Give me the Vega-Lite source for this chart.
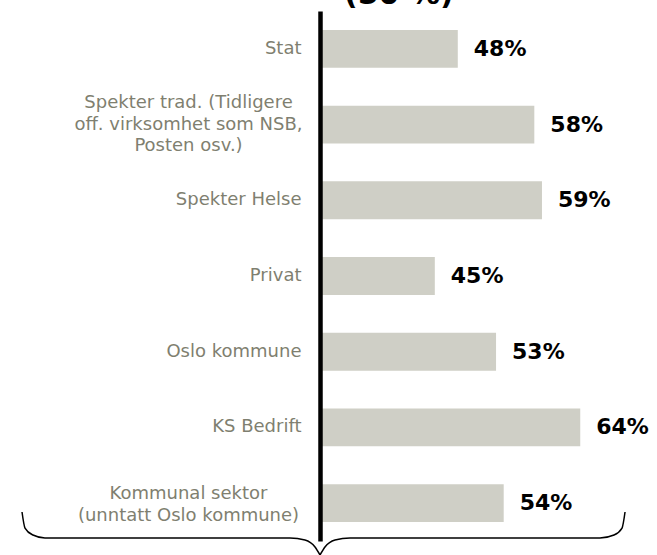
{
  "$schema": "https://vega.github.io/schema/vega-lite/v6.json",
  "width": 310,
  "height": 530,
  "autosize": {"type": "none"},
  "padding": {"left": 320, "top": 11, "right": 27, "bottom": 14},
  "background": "white",
  "title": {
    "text": "(50 %)",
    "anchor": "start",
    "frame": "group",
    "dx": 24,
    "offset": -23,
    "baseline": "alphabetic",
    "font": "DejaVu Sans",
    "fontSize": 30,
    "fontWeight": "bold",
    "color": "black"
  },
  "config": {"view": {"stroke": null}, "font": "DejaVu Sans"},
  "datasets": {
    "shares": [
      {"sektor": "Stat", "andel": 0.48},
      {"sektor": "Spekter trad. (Tidligere\noff. virksomhet som NSB,\nPosten osv.)", "andel": 0.58},
      {"sektor": "Spekter Helse", "andel": 0.59},
      {"sektor": "Privat", "andel": 0.45},
      {"sektor": "Oslo kommune", "andel": 0.53},
      {"sektor": "KS Bedrift", "andel": 0.64},
      {"sektor": "Kommunal sektor\n(unntatt Oslo kommune)", "andel": 0.54}
    ],
    "brace": [
      {"side": "venstre", "bx": -0.0893, "by": 0.547},
      {"side": "venstre", "bx": -0.0854, "by": 0.245},
      {"side": "venstre", "bx": -0.0750, "by": 0.113},
      {"side": "venstre", "bx": -0.0593, "by": 0.057},
      {"side": "venstre", "bx": 0.2608, "by": 0.057},
      {"side": "venstre", "bx": 0.2804, "by": 0.019},
      {"side": "venstre", "bx": 0.2935, "by": -0.113},
      {"side": "venstre", "bx": 0.30, "by": -0.264},
      {"side": "hoyre", "bx": 0.30, "by": -0.264},
      {"side": "hoyre", "bx": 0.3065, "by": -0.113},
      {"side": "hoyre", "bx": 0.3196, "by": 0.019},
      {"side": "hoyre", "bx": 0.3392, "by": 0.057},
      {"side": "hoyre", "bx": 0.6658, "by": 0.057},
      {"side": "hoyre", "bx": 0.6841, "by": 0.113},
      {"side": "hoyre", "bx": 0.6946, "by": 0.245},
      {"side": "hoyre", "bx": 0.6985, "by": 0.547}
    ]
  },
  "layer": [
    {
      "data": {"name": "shares"},
      "encoding": {
        "y": {
          "field": "sektor",
          "type": "nominal",
          "sort": null,
          "scale": {"paddingInner": 0.5, "paddingOuter": 0.25},
          "axis": {
            "title": null,
            "ticks": false,
            "tickSize": 0,
            "zindex": 1,
            "domainColor": "black",
            "domainWidth": 4.5,
            "labelFont": "DejaVu Sans",
            "labelFontSize": 18,
            "labelColor": "#7f7f70",
            "labelLineHeight": 21.7,
            "labelLimit": 0,
            "labelOverlap": false,
            "labelBound": false,
            "labelExpr": "split(datum.label, '\\n')",
            "labelAlign": {"condition": {"test": "indexof(datum.value, '\\n') >= 0", "value": "center"}, "value": "right"},
            "labelPadding": {"condition": {"test": "indexof(datum.value, '\\n') >= 0", "value": 132}, "value": 19},
            "labelOffset": {"condition": [
              {"test": "length(split(datum.value, '\\n')) == 3", "value": -21.7},
              {"test": "length(split(datum.value, '\\n')) == 2", "value": -9}
            ], "value": 0}
          }
        },
        "x": {"field": "andel", "type": "quantitative", "scale": {"domain": [0.30, 0.705], "zero": false, "nice": false}, "axis": null}
      },
      "layer": [
        {
          "mark": {"type": "bar", "color": "#cfcfc6"},
          "encoding": {"x2": {"datum": 0.30}}
        },
        {
          "mark": {"type": "text", "align": "left", "baseline": "middle", "dx": 16, "font": "DejaVu Sans", "fontSize": 22, "fontWeight": "bold", "color": "black"},
          "encoding": {
            "text": {"field": "andel", "type": "quantitative", "format": ".0%"}
          }
        }
      ]
    },
    {
      "data": {"name": "brace"},
      "mark": {"type": "line", "interpolate": "monotone", "color": "black", "strokeWidth": 1.5, "clip": false},
      "encoding": {
        "x": {"field": "bx", "type": "quantitative", "scale": {"domain": [0.30, 0.705], "zero": false, "nice": false}},
        "y": {"field": "by", "type": "quantitative", "scale": {"domain": [0, 10], "zero": false, "nice": false}, "axis": null},
        "detail": {"field": "side", "type": "nominal"}
      }
    }
  ],
  "resolve": {"scale": {"y": "independent"}}
}
